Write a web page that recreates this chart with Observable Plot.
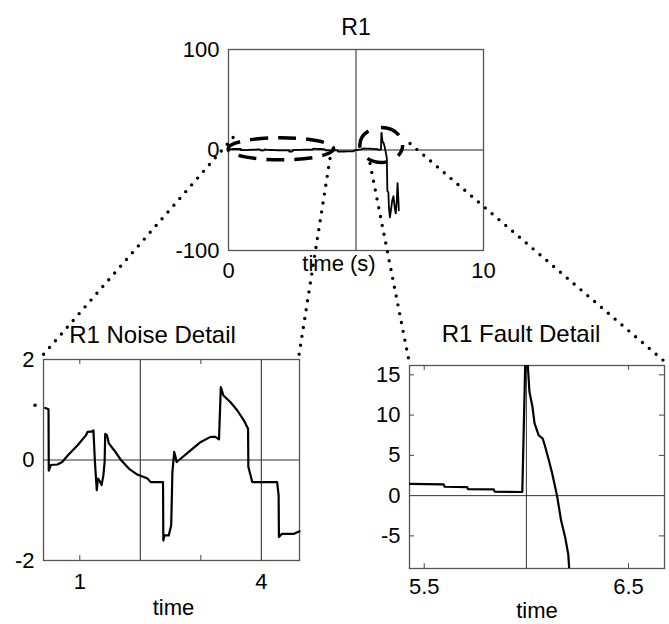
<!DOCTYPE html>
<html><head><meta charset="utf-8">
<script src="https://cdn.jsdelivr.net/npm/d3@7"></script>
<script src="https://cdn.jsdelivr.net/npm/@observablehq/plot@0.6"></script>
<style>
body{margin:0;background:#fff}
#wrap{position:relative;width:669px;height:624px;overflow:hidden;background:#fff}
</style></head><body><div id="wrap"></div>
<script>
// ---------- data ----------
// Noise detail trace (time, value)
const noiseTime  = [0.428,0.483,0.487,0.52,0.63,0.71,0.80,0.96,1.10,1.13,1.21,1.225,1.25,1.28,1.30,1.33,1.36,1.39,1.41,1.42,1.45,1.48,1.57,1.68,1.81,1.95,2.12,2.17,2.375,2.38,2.40,2.47,2.51,2.53,2.56,2.58,2.60,2.67,2.83,3.0,3.16,3.24,3.30,3.33,3.37,3.49,3.60,3.71,3.78,3.785,3.82,3.85,3.93,4.26,4.285,4.29,4.34,4.54,4.63];
const noiseValue = [1.035,1.01,-0.21,-0.1,-0.09,-0.04,0.09,0.29,0.49,0.56,0.57,0.59,-0.04,-0.6,-0.37,-0.42,-0.5,-0.3,-0.04,0.52,0.49,0.33,0.19,0,-0.17,-0.29,-0.37,-0.44,-0.44,-1.6,-1.5,-1.5,-1.3,-0.24,0.16,0.07,-0.04,0.03,0.19,0.36,0.46,0.46,0.41,1.45,1.29,1.15,0.99,0.79,0.62,-0.14,-0.3,-0.44,-0.44,-0.44,-0.7,-1.53,-1.47,-1.47,-1.42];
const strayTime  = [0.26];
const strayValue = [1.09];
// Fault detail trace
const faultTime  = [5.428,5.595,5.60,5.71,5.715,5.84,5.845,5.98,5.995,6.005,6.015,6.03,6.04,6.06,6.08,6.09,6.11,6.125,6.15,6.17,6.19,6.205,6.21];
const faultValue = [1.46,1.4,1.1,1.05,0.8,0.78,0.5,0.45,17,17,12.9,11.0,8.96,7.5,7.08,6.25,4.4,2.9,0,-3.1,-5.2,-7.3,-9.2];
// Extra parts of the full R1 trace
const leadTime   = [0,0.2];
const leadValue  = [0.6,1.0];
const bridgeTime = [4.75,4.9,4.95,5.05,5.2,5.3,5.4];
const bridgeValue= [-1.42,-1.4,-0.3,0.2,0.6,1.5,1.46];
const tailTime   = [6.22,6.23,6.27,6.29,6.33,6.37,6.42,6.47,6.52,6.56,6.6,6.63,6.66,6.68];
const tailValue  = [-25,-41,-42,-57,-67,-60,-50,-46,-58,-63,-50,-33,-48,-60];

// Axes
const topXDomain = [0,10], topYDomain = [-100,100];
const topXTicks = [0,10], topYTicks = [-100,0,100];
const topGridT = [5];
const noiseXDomain = [0.4,4.63], noiseYDomain = [-2,2];
const noiseXTicks = [1,4], noiseYTicks = [-2,0,2];
const noiseGridT = [2,4], noiseMinorT = [1,3];
const faultXDomain = [5.428,6.676], faultYDomain = [-9.05,16.16];
const faultXTicks = [5.5,6.5], faultYTicks = [-5,0,5,10,15];
const faultGridT = [6], faultMinorV = [-5,5,10,15];

// Annotations (top-plot data coordinates)
const ellipseCenterT = [2.07, 6.01];
const ellipseCenterV = [0.7, 4.5];
const ellipseHalfT   = [2.07, 0.84];
const ellipseHalfV   = [11, 17.4];
const linkStartT = [0.2, 4.0, 5.57, 7.14];
const linkStartV = [12, -9, -14, 6];

// Titles / labels
const titles = ["R1", "R1 Noise Detail", "R1 Fault Detail"];
const xLabels = ["time (s)", "time", "time"];

// ---------- helpers ----------
const rows = (t, v) => t.map((x, i) => ({t: x, v: v[i]}));
const font = "'Liberation Sans', Arial, Helvetica, sans-serif";
const fmt = d => String(d);
const baseStyle = {fontFamily: font, fontSize: "22px", color: "#000", background: "transparent", overflow: "visible"};
const wrap = document.getElementById("wrap");
function place(svg, left, top) {
  svg.style.position = "absolute";
  svg.style.left = left + "px";
  svg.style.top = top + "px";
  svg.style.maxWidth = "none";
  wrap.appendChild(svg);
  return [left, top];
}

// ---------- top plot ----------
const topRows = rows(
  [...leadTime, ...noiseTime, ...bridgeTime, ...faultTime, ...tailTime],
  [...leadValue, ...noiseValue, ...bridgeValue, ...faultValue, ...tailValue]
);
const topChart = Plot.plot({
  width: 380, height: 300, marginLeft: 78, marginRight: 47, marginTop: 49, marginBottom: 50,
  style: baseStyle,
  x: {domain: topXDomain, ticks: topXTicks, tickSize: 0, tickPadding: 12, label: null, tickFormat: fmt},
  y: {domain: topYDomain, ticks: topYTicks, tickSize: 0, tickPadding: 9, label: null, tickFormat: fmt},
  marks: [
    Plot.ruleY([0], {stroke: "#222", strokeWidth: 1}),
    Plot.ruleX(topGridT, {stroke: "#222", strokeWidth: 1}),
    Plot.frame({stroke: "#555", strokeWidth: 1.3}),
    Plot.line(topRows, {x: "t", y: "v", stroke: "#000", strokeWidth: 1.8}),
    Plot.text([titles[0]], {text: d => d, frameAnchor: "top", dy: -31, fontSize: 23}),
    Plot.text([xLabels[0]], {text: d => d, frameAnchor: "bottom", dy: 20, dx: -17})
  ]
});
const topOff = place(topChart, 150, 0);

// ---------- noise detail ----------
const noiseChart = Plot.plot({
  width: 330, height: 324, marginLeft: 43, marginRight: 31, marginTop: 59, marginBottom: 64,
  style: baseStyle,
  x: {domain: noiseXDomain, ticks: noiseXTicks, tickSize: 0, tickPadding: 13, label: null, tickFormat: fmt},
  y: {domain: noiseYDomain, ticks: noiseYTicks, tickSize: 0, tickPadding: 9, label: null, tickFormat: fmt},
  marks: [
    Plot.ruleY([0], {stroke: "#333", strokeWidth: 1}),
    Plot.ruleX(noiseGridT, {stroke: "#444", strokeWidth: 1.2}),
    Plot.ruleX(noiseMinorT, {y1: noiseYDomain[0], y2: noiseYDomain[0] + 0.1, stroke: "#444"}),
    Plot.ruleX(noiseMinorT, {y1: noiseYDomain[1] - 0.1, y2: noiseYDomain[1], stroke: "#444"}),
    Plot.frame({stroke: "#555", strokeWidth: 1.3}),
    Plot.line(rows(noiseTime, noiseValue), {x: "t", y: "v", stroke: "#000", strokeWidth: 2.2}),
    Plot.dot(rows(strayTime, strayValue), {x: "t", y: "v", r: 1.8, fill: "#000", stroke: null}),
    Plot.text([titles[1]], {text: d => d, frameAnchor: "top", dy: -34, dx: -19, fontSize: 24}),
    Plot.text([xLabels[1]], {text: d => d, frameAnchor: "bottom", dy: 54, dx: 2})
  ]
});
const noiseOff = place(noiseChart, 0, 300);

// ---------- fault detail ----------
const faultChart = Plot.plot({
  width: 329, height: 324, marginLeft: 69, marginRight: 5, marginTop: 65, marginBottom: 56,
  style: baseStyle,
  x: {domain: faultXDomain, ticks: faultXTicks, tickSize: 0, tickPadding: 10, label: null, tickFormat: fmt},
  y: {domain: faultYDomain, ticks: faultYTicks, tickSize: 0, tickPadding: 9, label: null, tickFormat: fmt},
  marks: [
    Plot.ruleY([0], {stroke: "#333", strokeWidth: 1}),
    Plot.ruleX(faultGridT, {stroke: "#333", strokeWidth: 1}),
    Plot.ruleX(faultXTicks, {y1: faultYDomain[0], y2: faultYDomain[0] + 0.6, stroke: "#444"}),
    Plot.ruleX(faultXTicks, {y1: faultYDomain[1] - 0.6, y2: faultYDomain[1], stroke: "#444"}),
    Plot.ruleY(faultMinorV, {x1: faultXDomain[0], x2: faultXDomain[0] + 0.025, stroke: "#444"}),
    Plot.ruleY(faultMinorV, {x1: faultXDomain[1] - 0.025, x2: faultXDomain[1], stroke: "#444"}),
    Plot.frame({stroke: "#555", strokeWidth: 1.3}),
    Plot.line(rows(faultTime, faultValue), {x: "t", y: "v", stroke: "#000", strokeWidth: 2.2, clip: true}),
    Plot.text([titles[2]], {text: d => d, frameAnchor: "top", dy: -41, dx: -16, fontSize: 24}),
    Plot.text([xLabels[2]], {text: d => d, frameAnchor: "bottom", dy: 49})
  ]
});
const faultOff = place(faultChart, 340, 300);

// ---------- overlay: ellipses and dotted links ----------
function P(chart, off, t, v) {
  return [off[0] + chart.scale("x").apply(t), off[1] + chart.scale("y").apply(v)];
}
const overlay = d3.create("svg")
  .attr("width", 669).attr("height", 624)
  .style("position", "absolute").style("left", "0px").style("top", "0px")
  .style("pointer-events", "none");

const dashes = ["18 10", "20 13"];
const dashOffsets = [4, 8];
ellipseCenterT.forEach((ct, i) => {
  const c = P(topChart, topOff, ct, ellipseCenterV[i]);
  const e = P(topChart, topOff, ct + ellipseHalfT[i], ellipseCenterV[i] + ellipseHalfV[i]);
  overlay.append("ellipse")
    .attr("cx", c[0]).attr("cy", c[1])
    .attr("rx", Math.abs(e[0] - c[0])).attr("ry", Math.abs(e[1] - c[1]))
    .attr("fill", "none").attr("stroke", "#000").attr("stroke-width", 3.5)
    .attr("stroke-dasharray", dashes[i]).attr("stroke-dashoffset", dashOffsets[i]);
});

const linkEnds = [
  P(noiseChart, noiseOff, noiseXDomain[0], noiseYDomain[1]),
  P(noiseChart, noiseOff, noiseXDomain[1], noiseYDomain[1]),
  P(faultChart, faultOff, faultXDomain[0], faultYDomain[1]),
  P(faultChart, faultOff, faultXDomain[1], faultYDomain[1])
];
linkStartT.forEach((t, i) => {
  const s = P(topChart, topOff, t, linkStartV[i]);
  const e = linkEnds[i];
  overlay.append("line")
    .attr("x1", s[0]).attr("y1", s[1]).attr("x2", e[0]).attr("y2", e[1] - 4)
    .attr("stroke", "#000").attr("stroke-width", 3.4)
    .attr("stroke-linecap", "round").attr("stroke-dasharray", "0 9");
});
wrap.appendChild(overlay.node());
</script>
</body></html>
